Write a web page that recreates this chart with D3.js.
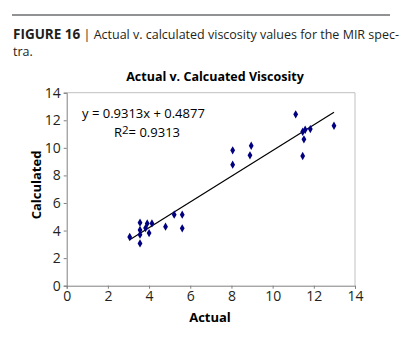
<!DOCTYPE html>
<html><head><meta charset="utf-8">
<script src="https://cdn.jsdelivr.net/npm/d3@7/dist/d3.min.js"></script>
<style>body{margin:0;background:#fff}svg{display:block}</style>
</head><body>
<script>
const actual = [11.12, 12.98, 11.46, 11.58, 11.83, 11.52, 11.46, 8.06, 8.06, 8.96, 8.9,
  3.06, 3.56, 3.56, 3.56, 3.56, 3.83, 3.91, 4.14, 4.0, 4.8, 5.22, 5.61, 5.61];
const calculated = [12.43, 11.6, 11.17, 11.31, 11.36, 10.62, 9.41, 9.82, 8.78, 10.15, 9.46,
  3.53, 3.07, 3.7, 4.04, 4.57, 4.18, 4.52, 4.52, 3.82, 4.28, 5.15, 5.15, 4.16];
const slope = 0.9313, intercept = 0.4877, r2 = 0.9313;
const xTicks = [0, 2, 4, 6, 8, 10, 12, 14];
const yTicks = [0, 2, 4, 6, 8, 10, 12, 14];
const caption = "Actual v. calculated viscosity values for the MIR spec-";
const caption2 = "tra.";
const chartTitle = "Actual v. Calcuated Viscosity";

const W = 400, H = 337;
const svg = d3.select("body").append("svg").attr("width", W).attr("height", H);
const font = "'Open Sans', 'Noto Sans', sans-serif";

svg.append("line").attr("x1", 12).attr("x2", 390).attr("y1", 15).attr("y2", 15)
  .attr("stroke", "#6d6e71").attr("stroke-width", 1.5);
const cap = svg.append("text").attr("x", 13).attr("y", 39).attr("font-family", font)
  .attr("font-size", 12.5).attr("fill", "#231f20");
cap.append("tspan").attr("font-weight", "bold").attr("font-size", 13.5).text("FIGURE 16");
cap.append("tspan").text(" | " + caption);
svg.append("text").attr("x", 13).attr("y", 56).attr("font-family", font)
  .attr("font-size", 12.5).attr("fill", "#231f20").text(caption2);

const x = d3.scaleLinear().domain([0, 14]).range([66.7, 355]);
const y = d3.scaleLinear().domain([0, 14]).range([285.7, 92.7]);

svg.append("text").attr("x", 215).attr("y", 81).attr("text-anchor", "middle")
  .attr("font-family", font).attr("font-weight", "bold").attr("font-size", 12.5).text(chartTitle);

// plot border
svg.append("path").attr("d", `M${x(0)},${y(14)}H${x(14)}V${y(0)}`).attr("fill", "none")
  .attr("stroke", "#c0c0c0").attr("stroke-width", 1);

const gx = svg.append("g").attr("transform", `translate(0,${y(0)})`)
  .call(d3.axisBottom(x).tickValues(xTicks).tickSize(3).tickPadding(2));
const gy = svg.append("g").attr("transform", `translate(${x(0)},0)`)
  .call(d3.axisLeft(y).tickValues(yTicks).tickSize(3).tickPadding(3));
[gx, gy].forEach(g => {
  g.select(".domain").attr("stroke", "#808080");
  g.selectAll(".tick line").attr("stroke", "#808080");
  g.selectAll(".tick text").attr("font-family", font).attr("font-size", 14).attr("fill", "#231f20");
});

svg.append("text").attr("x", 210).attr("y", 322).attr("text-anchor", "middle")
  .attr("font-family", font).attr("font-weight", "bold").attr("font-size", 13).text("Actual");
svg.append("text").attr("transform", `translate(41,185) rotate(-90)`).attr("text-anchor", "middle")
  .attr("font-family", font).attr("font-weight", "bold").attr("font-size", 13).text("Calculated");

// trend line
const x0 = d3.min(actual), x1 = d3.max(actual);
svg.append("line").attr("x1", x(x0)).attr("y1", y(slope * x0 + intercept))
  .attr("x2", x(x1)).attr("y2", y(slope * x1 + intercept)).attr("stroke", "#000").attr("stroke-width", 1.2);

const sym = d3.symbol().type(d3.symbolDiamond).size(20);
svg.append("g").selectAll("path").data(actual).join("path")
  .attr("transform", (d, i) => `translate(${x(d)},${y(calculated[i])})`)
  .attr("d", sym).attr("fill", "#000080");

svg.append("text").attr("x", 82).attr("y", 118).attr("font-family", font).attr("font-size", 13)
  .attr("fill", "#000").text(`y = ${slope}x + ${intercept}`);
const rt = svg.append("text").attr("x", 114).attr("y", 137).attr("font-family", font).attr("font-size", 13).attr("fill", "#000");
rt.append("tspan").text("R");
rt.append("tspan").attr("dy", -3).attr("font-size", 11.5).text("2");
rt.append("tspan").attr("dy", 3).text("= " + r2);
</script>
</body></html>
